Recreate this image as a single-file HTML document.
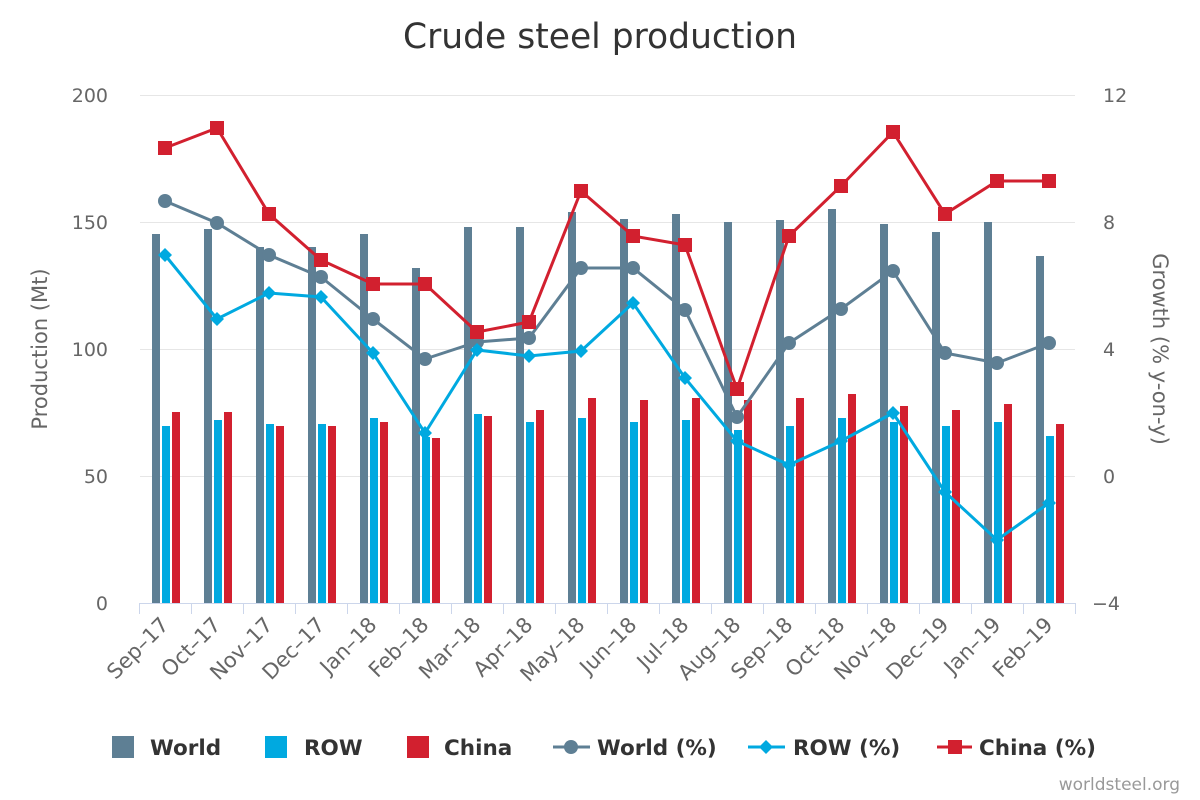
<!DOCTYPE html>
<html><head><meta charset="utf-8"><style>
html,body{margin:0;padding:0;background:#fff;}
svg{display:block;font-family:"DejaVu Sans","Liberation Sans",sans-serif;}
</style></head><body>
<svg id="c" width="1200" height="800" viewBox="0 0 1200 800" xmlns="http://www.w3.org/2000/svg">
<rect width="1200" height="800" fill="#fff"/>
<text x="600" y="48" text-anchor="middle" font-size="34.5" fill="#333">Crude steel production</text>
<g stroke="#e6e6e6" stroke-width="1">
<line x1="140" y1="95.5" x2="1075" y2="95.5"/><line x1="140" y1="222.5" x2="1075" y2="222.5"/>
<line x1="140" y1="349.5" x2="1075" y2="349.5"/><line x1="140" y1="476.5" x2="1075" y2="476.5"/>
</g>
<g font-size="19" fill="#666" text-anchor="end">
<text x="108" y="102">200</text><text x="108" y="229">150</text><text x="108" y="356">100</text><text x="108" y="483">50</text><text x="108" y="610">0</text>
</g>
<g font-size="19" fill="#666" text-anchor="start">
<text x="1103" y="102">12</text><text x="1103" y="229">8</text><text x="1103" y="356">4</text><text x="1103" y="483">0</text><text x="1092" y="610">−4</text>
</g>
<text transform="translate(47,349) rotate(-90)" text-anchor="middle" font-size="21" fill="#666">Production (Mt)</text>
<text transform="translate(1153,349) rotate(90)" text-anchor="middle" font-size="21" fill="#666">Growth (% y-on-y)</text>
<g id="bars"></g>
<line x1="140" y1="603.5" x2="1075" y2="603.5" stroke="#ccd6eb" stroke-width="1"/>
<g id="ticks" stroke="#ccd6eb"></g>
<g id="lines"></g>
<g id="labels" font-size="21" fill="#666" text-anchor="end"></g>
<g font-size="21.5" font-weight="bold" fill="#333">
<rect x="112" y="736" width="22" height="22" fill="#5e7f94"/><text x="150" y="755">World</text>
<rect x="265" y="736" width="22" height="22" fill="#00a9e0"/><text x="304" y="755">ROW</text>
<rect x="407" y="736" width="22" height="22" fill="#d2202f"/><text x="444" y="755">China</text>
<line x1="553" y1="747" x2="590" y2="747" stroke="#5e7f94" stroke-width="3"/><circle cx="571" cy="747" r="7" fill="#5e7f94"/><text x="597" y="755">World (%)</text>
<line x1="748" y1="747" x2="785" y2="747" stroke="#00a9e0" stroke-width="3"/><path d="M766 740 L773 747 L766 754 L759 747Z" fill="#00a9e0"/><text x="793" y="755">ROW (%)</text>
<line x1="937" y1="747" x2="972" y2="747" stroke="#d2202f" stroke-width="3"/><rect x="948" y="740" width="14" height="14" fill="#d2202f"/><text x="979" y="755">China (%)</text>
</g>
<text x="1180" y="790" text-anchor="end" font-size="17" fill="#999">worldsteel.org</text>
</svg>
<script>
var NS="http://www.w3.org/2000/svg";
function el(p,t,a,txt){var e=document.createElementNS(NS,t);for(var k in a)e.setAttribute(k,a[k]);if(txt)e.textContent=txt;document.getElementById(p).appendChild(e);return e;}
var W=[234,229,247,247,234,268,227,227,212,219,214,222,220,209,224,232,222,256];
var R=[426,420,424,424,418,437,414,422,418,422,420,430,426,418,422,426,422,436];
var C=[412,412,426,426,422,438,416,410,398,400,398,400,398,394,406,410,404,424];
var wp=[201,223,255,277,319,359,342,338,268,268,310,417,343,309,271,353,363,343];
var rp=[255,319,293,297,353,433,350,356,351,303,378,441,465,441,413,492,540,503];
var cp=[148,128,214,260,284,284,332,322,191,236,245,389,236,186,132,214,181,181];
var L=["Sep-17","Oct-17","Nov-17","Dec-17","Jan-18","Feb-18","Mar-18","Apr-18","May-18","Jun-18","Jul-18","Aug-18","Sep-18","Oct-18","Nov-18","Dec-19","Jan-19","Feb-19"];
for(var i=0;i<18;i++){var b=152+52*i;
el("bars","rect",{x:b,y:W[i],width:8,height:603-W[i],fill:"#5e7f94"});
el("bars","rect",{x:b+10,y:R[i],width:8,height:603-R[i],fill:"#00a9e0"});
el("bars","rect",{x:b+20,y:C[i],width:8,height:603-C[i],fill:"#d2202f"});
el("ticks","line",{x1:139.5+52*i,y1:603,x2:139.5+52*i,y2:614});
var lx=166+52*i;
el("labels","text",{transform:"translate("+(lx+4)+",626) rotate(-45)"},L[i].replace("-","–"));
}
el("ticks","line",{x1:1075.5,y1:603,x2:1075.5,y2:614});
function line(d,col){var p="";for(var i=0;i<18;i++)p+=(i?"L":"M")+(165+52*i)+" "+d[i];el("lines","path",{d:p,fill:"none",stroke:col,"stroke-width":3});}
line(wp,"#5e7f94");line(rp,"#00a9e0");line(cp,"#d2202f");
for(var i=0;i<18;i++){var x=165+52*i;
el("lines","circle",{cx:x,cy:wp[i],r:7,fill:"#5e7f94"});
el("lines","path",{d:"M"+x+" "+(rp[i]-7)+"L"+(x+7)+" "+rp[i]+"L"+x+" "+(rp[i]+7)+"L"+(x-7)+" "+rp[i]+"Z",fill:"#00a9e0"});
el("lines","rect",{x:x-7,y:cp[i]-7,width:14,height:14,fill:"#d2202f"});
}
</script>
</body></html>
